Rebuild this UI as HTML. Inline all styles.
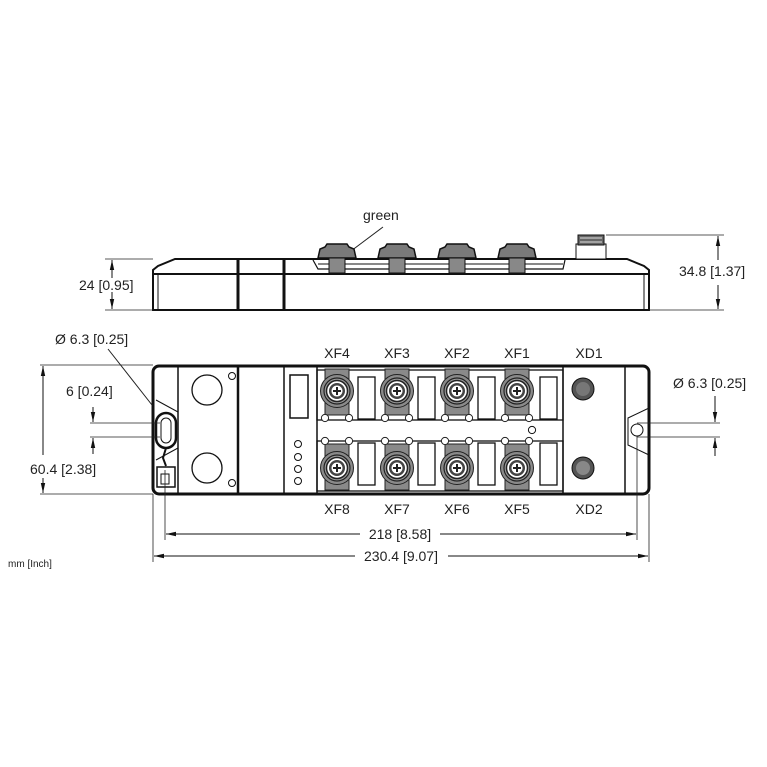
<!DOCTYPE html>
<html><head><meta charset="utf-8"><style>
html,body{margin:0;padding:0;background:#fff;}
svg{display:block;font-family:"Liberation Sans",sans-serif;}
text{fill:#222;font-size:14px;}
</style></head><body>
<svg width="767" height="767" viewBox="0 0 767 767" xmlns="http://www.w3.org/2000/svg">
<defs>
<marker id="a" markerWidth="10" markerHeight="6" refX="10" refY="3" orient="auto" markerUnits="userSpaceOnUse"><path d="M0,0.8 L10,3 L0,5.2z" fill="#111"/></marker>
<g id="cT">
 <rect x="-12" y="-22" width="24" height="46" fill="#8a8a8a" stroke="#222" stroke-width="1"/>
 <circle r="16.5" fill="#8a8a8a" stroke="#222" stroke-width="1"/>
 <circle r="13" fill="#9a9a9a" stroke="#222" stroke-width="1.2"/>
 <circle r="10.5" fill="#fff" stroke="#222" stroke-width="1.5"/>
 <circle r="8" fill="#444"/>
 <circle r="5.5" fill="#fff"/>
 <path d="M-4,0 H4 M0,-4 V4" stroke="#222" stroke-width="2"/>
 <circle cx="-12" cy="27" r="3.6" fill="#fff" stroke="#222"/>
 <circle cx="12" cy="27" r="3.6" fill="#fff" stroke="#222"/>
</g>
<g id="cB">
 <rect x="-12" y="-24" width="24" height="46" fill="#8a8a8a" stroke="#222" stroke-width="1"/>
 <circle r="16.5" fill="#8a8a8a" stroke="#222" stroke-width="1"/>
 <circle r="13" fill="#9a9a9a" stroke="#222" stroke-width="1.2"/>
 <circle r="10.5" fill="#fff" stroke="#222" stroke-width="1.5"/>
 <circle r="8" fill="#444"/>
 <circle r="5.5" fill="#fff"/>
 <path d="M-4,0 H4 M0,-4 V4" stroke="#222" stroke-width="2"/>
 <circle cx="-12" cy="-27" r="3.6" fill="#fff" stroke="#222"/>
 <circle cx="12" cy="-27" r="3.6" fill="#fff" stroke="#222"/>
</g>
<g id="cap">
 <path d="M-19,14 L-17,5 L-12,3 L-10,0 L10,0 L12,3 L17,5 L19,14Z" fill="#7a7a7a" stroke="#111" stroke-width="1.5"/>
 <rect x="-8" y="14" width="16" height="15" fill="#888" stroke="#111"/>
</g>
</defs>

<!-- SIDE VIEW -->
<text x="363" y="220">green</text>
<line x1="383" y1="227" x2="347" y2="254" stroke="#222"/>
<path d="M153,310 L153,270 L158,266 L175,259 L627,259 L644,266 L649,270 L649,310Z" fill="#fff" stroke="#111" stroke-width="2"/>
<line x1="153" y1="274" x2="649" y2="274" stroke="#111" stroke-width="2"/>
<line x1="158" y1="274" x2="158" y2="310" stroke="#111" stroke-width="1"/>
<line x1="644" y1="274" x2="644" y2="310" stroke="#111" stroke-width="1"/>
<line x1="238" y1="259" x2="238" y2="310" stroke="#111" stroke-width="3"/>
<line x1="284" y1="259" x2="284" y2="310" stroke="#111" stroke-width="3"/>
<path d="M313,260 L318,269 L563,269 L565,260" fill="none" stroke="#111" stroke-width="1.2"/>
<line x1="318" y1="264" x2="563" y2="264" stroke="#111" stroke-width="1"/>
<use href="#cap" x="337" y="244"/>
<use href="#cap" x="397" y="244"/>
<use href="#cap" x="457" y="244"/>
<use href="#cap" x="517" y="244"/>
<rect x="576" y="244" width="30" height="15" fill="#fff" stroke="#111"/>
<rect x="578" y="235" width="26" height="10" fill="#666" stroke="#111"/>
<path d="M580,238 H602 M580,242 H602" stroke="#ddd"/>
<!-- side dims -->
<line x1="105" y1="259" x2="153" y2="259" stroke="#222" stroke-width="0.8"/>
<line x1="105" y1="310" x2="153" y2="310" stroke="#222" stroke-width="0.8"/>
<line x1="112" y1="278" x2="112" y2="260" stroke="#111" marker-end="url(#a)"/>
<line x1="112" y1="292" x2="112" y2="309" stroke="#111" marker-end="url(#a)"/>
<text x="79" y="290">24 [0.95]</text>
<line x1="606" y1="235" x2="724" y2="235" stroke="#222" stroke-width="0.8"/>
<line x1="649" y1="310" x2="724" y2="310" stroke="#222" stroke-width="0.8"/>
<line x1="718" y1="260" x2="718" y2="236" stroke="#111" marker-end="url(#a)"/>
<line x1="718" y1="285" x2="718" y2="309" stroke="#111" marker-end="url(#a)"/>
<text x="679" y="276">34.8 [1.37]</text>

<!-- TOP VIEW -->
<rect x="153" y="366" width="496" height="128" rx="6" fill="#fff" stroke="#111" stroke-width="3"/>
<line x1="178" y1="366" x2="178" y2="494" stroke="#111" stroke-width="1.5"/>
<line x1="238" y1="366" x2="238" y2="494" stroke="#111" stroke-width="2.5"/>
<line x1="284" y1="366" x2="284" y2="494" stroke="#111" stroke-width="1.5"/>
<line x1="317" y1="366" x2="317" y2="494" stroke="#111" stroke-width="1.5"/>
<line x1="563" y1="366" x2="563" y2="494" stroke="#111" stroke-width="1.5"/>
<line x1="625" y1="366" x2="625" y2="494" stroke="#111" stroke-width="1.5"/>
<!-- left end -->
<path d="M156,400 L178,412 M156,460 L178,448 M178,412 L178,448" stroke="#111" fill="none"/>
<rect x="156" y="413" width="20" height="35" rx="10" fill="#fff" stroke="#111" stroke-width="2.5"/>
<rect x="161" y="418" width="10" height="25" rx="5" fill="#fff" stroke="#111"/>
<path d="M166,448 L163,458 L166,466" stroke="#111" stroke-width="2" fill="none"/>
<rect x="157" y="467" width="18" height="20" fill="#fff" stroke="#111" stroke-width="1.5"/>
<rect x="161" y="474" width="8" height="10" fill="#fff" stroke="#111"/>
<!-- right end -->
<path d="M649,408 L628,418 L628,445 L649,455" stroke="#111" fill="none"/>
<circle cx="637" cy="430" r="6" fill="#fff" stroke="#111"/>
<!-- big circles -->
<circle cx="207" cy="390" r="15" fill="#fff" stroke="#111" stroke-width="1.3"/>
<circle cx="207" cy="468" r="15" fill="#fff" stroke="#111" stroke-width="1.3"/>
<circle cx="232" cy="376" r="3.5" fill="#fff" stroke="#111"/>
<circle cx="232" cy="483" r="3.5" fill="#fff" stroke="#111"/>
<!-- led section -->
<rect x="290" y="375" width="18" height="43" fill="#fff" stroke="#111" stroke-width="1.5"/>
<circle cx="298" cy="444" r="3.5" fill="#fff" stroke="#111"/>
<circle cx="298" cy="457" r="3.5" fill="#fff" stroke="#111"/>
<circle cx="298" cy="469" r="3.5" fill="#fff" stroke="#111"/>
<circle cx="298" cy="481" r="3.5" fill="#fff" stroke="#111"/>
<!-- connector area lines -->
<rect x="317" y="370" width="246" height="50" fill="none" stroke="#111" stroke-width="1.3"/>
<rect x="317" y="441" width="246" height="50" fill="none" stroke="#111" stroke-width="1.3"/>
<circle cx="532" cy="430" r="3.6" fill="#fff" stroke="#111"/>
<g fill="#fff" stroke="#111" stroke-width="1.3">
<rect x="358" y="377" width="17" height="42"/><rect x="418" y="377" width="17" height="42"/><rect x="478" y="377" width="17" height="42"/><rect x="540" y="377" width="17" height="42"/>
<rect x="358" y="443" width="17" height="42"/><rect x="418" y="443" width="17" height="42"/><rect x="478" y="443" width="17" height="42"/><rect x="540" y="443" width="17" height="42"/>
</g>
<use href="#cT" x="337" y="391"/><use href="#cT" x="397" y="391"/><use href="#cT" x="457" y="391"/><use href="#cT" x="517" y="391"/>
<use href="#cB" x="337" y="468"/><use href="#cB" x="397" y="468"/><use href="#cB" x="457" y="468"/><use href="#cB" x="517" y="468"/>
<circle cx="583" cy="389" r="11" fill="#555" stroke="#111"/>
<circle cx="583" cy="389" r="7" fill="#777"/>
<circle cx="583" cy="468" r="11" fill="#555" stroke="#111"/>
<circle cx="583" cy="468" r="7" fill="#888"/>
<!-- labels -->
<g text-anchor="middle">
<text x="337" y="358">XF4</text><text x="397" y="358">XF3</text><text x="457" y="358">XF2</text><text x="517" y="358">XF1</text><text x="589" y="358">XD1</text>
<text x="337" y="514">XF8</text><text x="397" y="514">XF7</text><text x="457" y="514">XF6</text><text x="517" y="514">XF5</text><text x="589" y="514">XD2</text>
</g>
<!-- left dims -->
<text x="55" y="344">Ø 6.3 [0.25]</text>
<line x1="108" y1="349" x2="152" y2="405" stroke="#222"/>
<text x="66" y="396">6 [0.24]</text>
<line x1="90" y1="423" x2="160" y2="423" stroke="#222" stroke-width="0.8"/>
<line x1="90" y1="437" x2="160" y2="437" stroke="#222" stroke-width="0.8"/>
<line x1="93" y1="407" x2="93" y2="422" stroke="#111" marker-end="url(#a)"/>
<line x1="93" y1="454" x2="93" y2="438" stroke="#111" marker-end="url(#a)"/>
<line x1="40" y1="365" x2="153" y2="365" stroke="#222" stroke-width="0.8"/>
<line x1="40" y1="494" x2="153" y2="494" stroke="#222" stroke-width="0.8"/>
<line x1="43" y1="455" x2="43" y2="366" stroke="#111" marker-end="url(#a)"/>
<line x1="43" y1="478" x2="43" y2="493" stroke="#111" marker-end="url(#a)"/>
<text x="30" y="474" style="font-size:14px">60.4 [2.38]</text>
<!-- right dims -->
<text x="673" y="388">Ø 6.3 [0.25]</text>
<line x1="637" y1="423" x2="720" y2="423" stroke="#222" stroke-width="0.8"/>
<line x1="637" y1="437" x2="720" y2="437" stroke="#222" stroke-width="0.8"/>
<line x1="715" y1="396" x2="715" y2="422" stroke="#111" marker-end="url(#a)"/>
<line x1="715" y1="456" x2="715" y2="438" stroke="#111" marker-end="url(#a)"/>
<line x1="637" y1="436" x2="637" y2="540" stroke="#222" stroke-width="0.8"/>
<line x1="165" y1="470" x2="165" y2="540" stroke="#222" stroke-width="0.8"/>
<line x1="153" y1="494" x2="153" y2="562" stroke="#222" stroke-width="0.8"/>
<line x1="649" y1="494" x2="649" y2="562" stroke="#222" stroke-width="0.8"/>
<!-- bottom dims -->
<line x1="360" y1="534" x2="166" y2="534" stroke="#111" marker-end="url(#a)"/>
<line x1="440" y1="534" x2="636" y2="534" stroke="#111" marker-end="url(#a)"/>
<text x="400" y="539" text-anchor="middle">218 [8.58]</text>
<line x1="355" y1="556" x2="154" y2="556" stroke="#111" marker-end="url(#a)"/>
<line x1="448" y1="556" x2="648" y2="556" stroke="#111" marker-end="url(#a)"/>
<text x="401" y="561" text-anchor="middle">230.4 [9.07]</text>
<text x="8" y="567" style="font-size:10px">mm [Inch]</text>
</svg>
</body></html>
